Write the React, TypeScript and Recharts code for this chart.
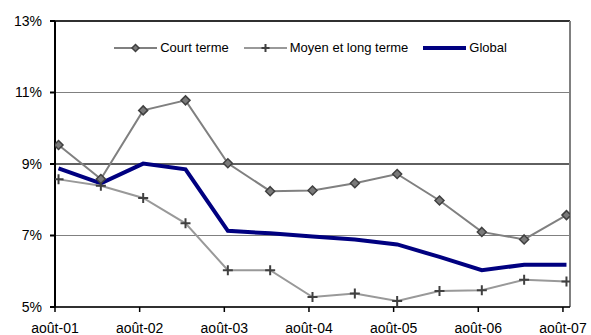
import React from 'react';
import { LineChart, Line, XAxis, YAxis, CartesianGrid, ReferenceLine, Legend } from 'recharts';

// months counted from août-01 (points sit mid-month)
const pointMonths = [0.5, 6.5, 12.5, 18.5, 24.5, 30.5, 36.5, 42.5, 48.5, 54.5, 60.5, 66.5, 72.5];
const courtTerme = [9.53, 8.58, 10.5, 10.78, 9.02, 8.24, 8.26, 8.46, 8.72, 7.98, 7.1, 6.89, 7.57];
const moyenLongTerme = [8.57, 8.39, 8.05, 7.34, 6.03, 6.03, 5.28, 5.38, 5.17, 5.45, 5.47, 5.76, 5.71];
const globalRate = [8.88, 8.46, 9.01, 8.85, 7.13, 7.06, 6.97, 6.89, 6.75, 6.4, 6.03, 6.18, 6.18];

const tickMonths = [0, 12, 24, 36, 48, 60, 72];
const tickLabels = ['août-01', 'août-02', 'août-03', 'août-04', 'août-05', 'août-06', 'août-07'];
const yTicks = [5, 7, 9, 11, 13];

const data = pointMonths.map((m, i) => ({
    m,
    court: courtTerme[i],
    moyen: moyenLongTerme[i],
    global: globalRate[i],
}));

const FONT = 'Arial, "Liberation Sans", sans-serif';

const Diamond = (props: any) => {
    const { cx, cy, index } = props;
    if (cx == null || cy == null) return null;
    const r = 4.5;
    return (
        <polygon
            key={`d-${index}`}
            points={`${cx},${cy - r} ${cx + r},${cy} ${cx},${cy + r} ${cx - r},${cy}`}
            fill="#7a7a7a"
            stroke="#404040"
            strokeWidth={1.5}
        />
    );
};

const Plus = (props: any) => {
    const { cx, cy, index } = props;
    if (cx == null || cy == null) return null;
    return (
        <path
            key={`p-${index}`}
            d={`M${cx - 5},${cy} h10 M${cx},${cy - 5} v10`}
            stroke="#404040"
            strokeWidth={2}
            fill="none"
        />
    );
};

const legendItems = [
    { name: 'Court terme', color: '#808080', width: 2, marker: 'diamond' },
    { name: 'Moyen et long terme', color: '#999999', width: 2, marker: 'plus' },
    { name: 'Global', color: '#000080', width: 4, marker: 'none' },
];

const renderLegend = () => (
    <div style={{ display: 'flex', justifyContent: 'center', fontFamily: FONT, fontSize: 13, color: '#000', paddingLeft: 30 }}>
        {legendItems.map((it, i) => (
            <div key={it.name} style={{ display: 'flex', alignItems: 'center', marginLeft: i === 0 ? 0 : 15 }}>
                <svg width={43} height={12}>
                    <line x1={0} y1={6} x2={43} y2={6} stroke={it.color} strokeWidth={it.width} />
                    {it.marker === 'diamond' && (
                        <polygon points="21.5,2.5 25,6 21.5,9.5 18,6" fill="#7a7a7a" stroke="#404040" strokeWidth={1.5} />
                    )}
                    {it.marker === 'plus' && (
                        <path d="M17.5,6 h8 M21.5,2 v8" stroke="#404040" strokeWidth={2} />
                    )}
                </svg>
                <span style={{ marginLeft: 3 }}>{it.name}</span>
            </div>
        ))}
    </div>
);

const App: React.FC = () => {
    return (
        <div style={{ position: 'absolute', left: 0, top: 0, width: 591, height: 335, background: '#fff' }}>
            <LineChart
                width={591}
                height={335}
                data={data}
                margin={{ top: 21, right: 21, bottom: 0, left: 5 }}
            >
                <CartesianGrid horizontal vertical={false} stroke="#808080" strokeWidth={1} />
                <ReferenceLine y={9} stroke="#000" strokeWidth={1} />
                <ReferenceLine y={13} stroke="#000" strokeWidth={1.5} />
                <ReferenceLine x={73} stroke="#808080" strokeWidth={2} />
                <XAxis
                    dataKey="m"
                    type="number"
                    domain={[0, 73]}
                    ticks={tickMonths}
                    tickFormatter={(v: number) => tickLabels[tickMonths.indexOf(v)]}
                    height={28}
                    tickSize={5}
                    tickMargin={11}
                    stroke="#000"
                    strokeWidth={1.5}
                    tick={{ fill: '#000', fontSize: 14, fontFamily: FONT }}
                    interval={0}
                    allowDataOverflow
                />
                <YAxis
                    type="number"
                    domain={[5, 13]}
                    ticks={yTicks}
                    tickFormatter={(v: number) => `${v}%`}
                    width={50}
                    tickSize={5}
                    tickMargin={8}
                    stroke="#000"
                    strokeWidth={2}
                    tick={{ fill: '#000', fontSize: 14, fontFamily: FONT }}
                    interval={0}
                    allowDataOverflow
                />
                <Legend
                    layout="horizontal"
                    verticalAlign="middle"
                    align="center"
                    content={renderLegend}
                    wrapperStyle={{ top: 40, left: 0, width: 591 }}
                />
                <Line
                    dataKey="global"
                    stroke="#000080"
                    strokeWidth={4}
                    dot={false}
                    activeDot={false}
                    isAnimationActive={false}
                    type="linear"
                />
                <Line
                    dataKey="moyen"
                    stroke="#999999"
                    strokeWidth={2}
                    dot={Plus}
                    activeDot={false}
                    isAnimationActive={false}
                    type="linear"
                />
                <Line
                    dataKey="court"
                    stroke="#808080"
                    strokeWidth={2}
                    dot={Diamond}
                    activeDot={false}
                    isAnimationActive={false}
                    type="linear"
                />
            </LineChart>
        </div>
    );
};

export default App;
